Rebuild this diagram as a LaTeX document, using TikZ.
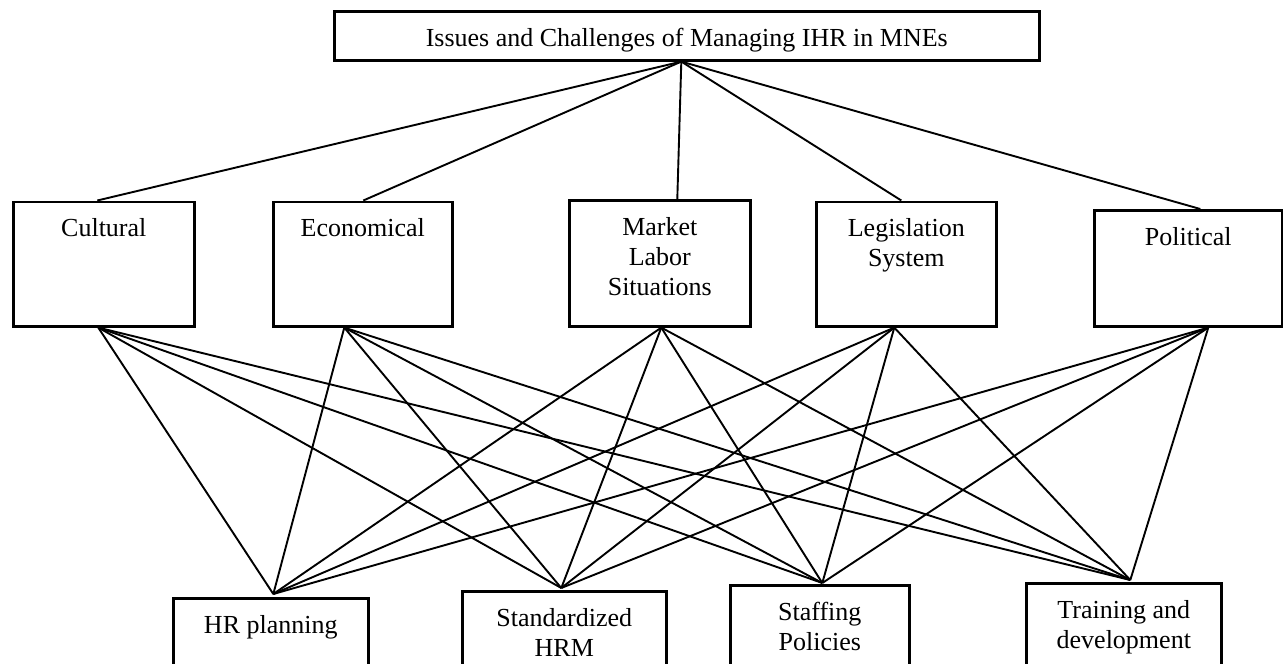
\documentclass[tikz,border=0pt]{standalone}
\usepackage{fontspec}
\setmainfont{Liberation Serif}
% fixed-size box content: text centred, hanging from the top
\newcommand\boxtxt[3]{\parbox[c][#2pt][t]{#1pt}{\centering\vspace*{14pt}\strut #3\par}}
\begin{document}
\begin{tikzpicture}[x=1pt,y=-1pt,
  box/.style={draw,line width=2.6pt,inner sep=0pt,anchor=north west,
              font=\fontsize{26}{30}\selectfont},
  link/.style={line width=1.9pt}]
\useasboundingbox (0,0) rectangle (1283,664);
\fill[white] (0,0) rectangle (1283,664);
\clip (0,0) rectangle (1283,664);

% root
\node[box] (top) at (333,10) {\boxtxt{705}{49}{Issues and Challenges of Managing IHR in MNEs}};

% environmental factors
\node[box] (cul) at (12,200.5)  {\boxtxt{181}{124.5}{Cultural}};
\node[box] (eco) at (272,200.5) {\boxtxt{179}{124.5}{Economical}};
\node[box] (mkt) at (568,199)   {\boxtxt{181}{126}{Market\\Labor\\Situations}};
\node[box] (leg) at (815,200.5) {\boxtxt{180}{124.5}{Legislation\\System}};
\node[box] (pol) at (1093,209)  {\boxtxt{188}{116}{Political}};

% HRM functions
\node[box] (hrp) at (172,597)  {\boxtxt{195}{100}{HR planning}};
\node[box] (std) at (461,590)  {\boxtxt{204}{100}{Standardized\\HRM}};
\node[box] (stf) at (729,584)  {\boxtxt{179}{100}{Staffing\\Policies}};
\node[box] (trn) at (1025,582) {\boxtxt{195}{100}{Training and\\development}};

% attachment points
\coordinate (apex) at ([xshift=-5.5pt]top.south);
\coordinate (culN) at ([xshift=-6.5pt]cul.north);
\coordinate (ecoN) at ([xshift=0.5pt]eco.north);
\coordinate (mktN) at ([xshift=17.5pt]mkt.north);
\coordinate (legN) at ([xshift=-5pt]leg.north);
\coordinate (polN) at ([xshift=12pt]pol.north);
\coordinate (culS) at ([xshift=-5.5pt]cul.south);
\coordinate (ecoS) at ([xshift=-18.5pt]eco.south);
\coordinate (mktS) at ([xshift=1.5pt]mkt.south);
\coordinate (legS) at ([xshift=-12pt]leg.south);
\coordinate (polS) at ([xshift=20pt]pol.south);
\coordinate (hrpN) at ([xshift=2.5pt,yshift=3pt]hrp.north);
\coordinate (stdN) at ([xshift=-3pt,yshift=2pt]std.north);
\coordinate (stfN) at ([xshift=2.5pt,yshift=1pt]stf.north);
\coordinate (trnN) at ([xshift=6.5pt,yshift=2pt]trn.north);

% root to factors
\foreach \f in {culN,ecoN,mktN,legN,polN}
  \draw[link] (apex) -- (\f);

% every factor to every function
\foreach \f in {culS,ecoS,mktS,legS,polS}
  \foreach \g in {hrpN,stdN,stfN,trnN}
    \draw[link] (\f) -- (\g);
\end{tikzpicture}
\end{document}
